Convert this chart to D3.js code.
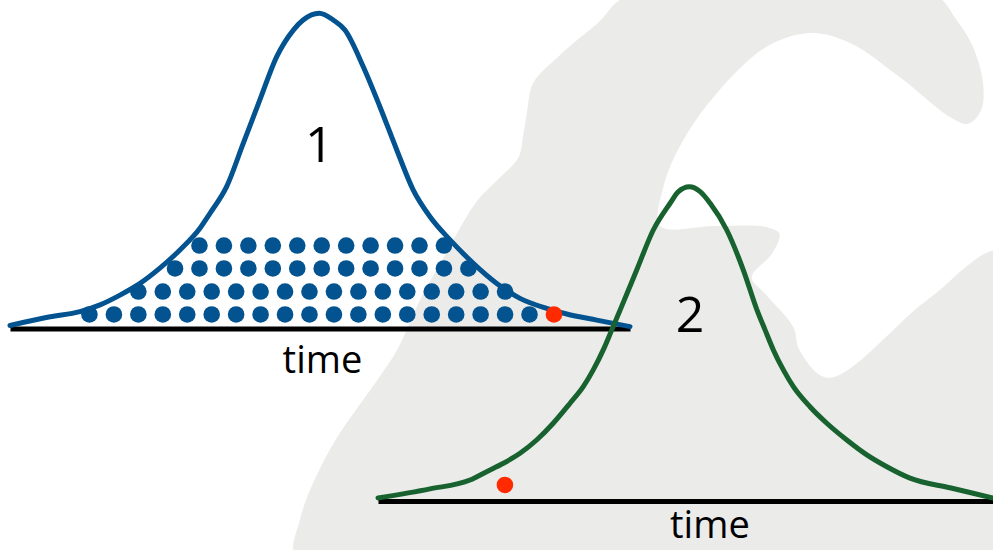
<!DOCTYPE html>
<html>
<head>
    <meta charset="UTF-8">
    <title>time</title>
    <script src="https://d3js.org/d3.v7.min.js"></script>
    <style>
        body {
            margin: 0;
            background: #fff;
        }
        svg {
            display: block;
        }
        .label {
            font-family: "Open Sans", sans-serif;
            fill: #000;
        }
        .baseline path {
            stroke: #000;
            stroke-width: 5;
        }
    </style>
</head>
<body>
    <div id="chart"></div>

    <script>
        // curve 1 (blue): time in dot columns, height in dot rows
        const blueTime = [0, 1.64, 2.86, 3.68, 4.50, 5.32, 6.13, 6.95, 7.77, 8.18, 8.86, 9.54, 10.22, 10.91, 11.59, 11.99,
            12.65, 13.22, 13.70, 14.45, 15.13, 15.82, 16.49, 17.18, 18.00, 18.95, 19.91, 20.86, 21.95, 22.77, 24.00, 25.36];
        const blueHeight = [0.13, 0.50, 0.72, 1.01, 1.43, 1.93, 2.58, 3.36, 4.29, 4.93, 6.07, 7.92, 9.78, 11.63, 12.77, 13.20,
            13.49, 13.20, 12.77, 11.20, 9.49, 7.64, 5.93, 4.78, 3.79, 2.79, 1.93, 1.29, 0.86, 0.62, 0.36, 0.08];

        // curve 2 (green)
        const greenTime = [0, 2.13, 3.77, 4.45, 5.14, 5.82, 6.50, 7.18, 7.87, 8.41, 8.82, 9.23, 9.58, 9.92, 10.60, 11.28,
            11.97, 12.31, 12.76, 13.20, 13.61, 14.29, 14.97, 15.53, 15.86, 16.20, 16.61, 17.02, 17.70, 18.39, 19.21,
            20.03, 20.85, 21.80, 23.48, 25.20];
        const greenHeight = [0.13, 0.52, 0.90, 1.26, 1.62, 2.05, 2.62, 3.34, 4.20, 4.91, 5.63, 6.49, 7.35, 8.20, 9.92, 11.64,
            12.79, 13.29, 13.50, 13.29, 12.79, 11.64, 9.92, 8.20, 7.35, 6.49, 5.63, 4.91, 4.05, 3.34, 2.62,
            1.98, 1.47, 0.98, 0.56, 0.13];

        // dots under curve 1: row height, time of first dot, number of dots
        const dotRowHeight = [0.60, 1.58, 2.57, 3.55];
        const dotRowStart = [3.25, 5.25, 6.75, 7.75];
        const dotRowCount = [19, 16, 13, 11];

        // red points (one per curve)
        const redTime = [22.25, 5.20];
        const redHeight = [0.60, 0.69];

        const panelNames = ["1", "2"];
        const panelNameTime = [12.65, 12.79];
        const panelNameHeight = [7.12, 7.26];
        const axisTitle = "time";
        const axisTitleTime = [12.78, 13.6];

        // grey watermark in the background, percent of the picture
        const shapeX = [63.2, 94.2, 96.2, 97.9, 99.0, 98.8, 97.5, 95.7, 90.6, 85.6, 81.6, 77.2, 72.2, 68.8, 66.8, 66.5,
            72.0, 77.2, 78.5, 77.8, 75.7, 77.1, 79.9, 80.5, 83.4, 93.4, 100.7, 100.7, 30.0, 30.2, 33.2, 38.0, 40.0,
            42.3, 44.8, 46.5, 48.1, 50.4, 52.2, 52.7, 53.1, 53.7, 56.4, 60.2];
        const shapeY = [-0.7, -0.7, 3.3, 8.2, 15.1, 20.0, 22.5, 21.3, 14.0, 7.8, 6.0, 8.5, 16.9, 25.5, 34.0, 41.1,
            41.1, 41.3, 42.5, 46.0, 50.4, 53.5, 59.5, 63.6, 68.7, 54.5, 45.8, 101.8, 101.8, 94.5, 81.8, 69.1, 63.6,
            54.5, 46.4, 40.9, 36.4, 32.2, 28.7, 24.5, 20.0, 15.1, 10.0, 4.2];

        const width = 993;
        const height = 550;

        const svg = d3.select("#chart")
            .append("svg")
            .attr("width", width)
            .attr("height", height);

        // watermark
        const bx = d3.scaleLinear().domain([0, 100]).range([0, width]);
        const by = d3.scaleLinear().domain([0, 100]).range([0, height]);
        svg.append("path")
            .datum(d3.zip(shapeX, shapeY))
            .attr("fill", "#ebebea")
            .attr("d", d3.line()
                .x(d => bx(d[0]))
                .y(d => by(d[1]))
                .curve(d3.curveCatmullRomClosed.alpha(0.5)));

        // two panels, each with its own scales
        const panels = [
            {
                time: blueTime, value: blueHeight, color: "#02538f",
                x: d3.scaleLinear().domain([0, 25.36]).range([10, 630]),
                y: d3.scaleLinear().domain([0, 13.5]).range([328.5, 13]),
                titleDy: 44
            },
            {
                time: greenTime, value: greenHeight, color: "#17622e",
                x: d3.scaleLinear().domain([0, 25.2]).range([378, 993]),
                y: d3.scaleLinear().domain([0, 13.5]).range([501, 186.7]),
                titleDy: 37
            }
        ];

        panels.forEach((p, i) => {
            const g = svg.append("g");

            // time axis (just the line)
            g.append("g")
                .attr("class", "baseline")
                .attr("transform", `translate(0,${p.y(0)})`)
                .call(d3.axisBottom(p.x).tickValues([]).tickSizeOuter(0));

            // axis title
            g.append("text")
                .attr("class", "label")
                .attr("x", p.x(axisTitleTime[i]))
                .attr("y", p.y(0) + p.titleDy)
                .attr("text-anchor", "middle")
                .style("font-size", "38px")
                .text(axisTitle);

            // blue dots sit under curve 1 only
            if (i === 0) {
                const dots = [];
                dotRowHeight.forEach((h, r) => {
                    for (let k = 0; k < dotRowCount[r]; k++) {
                        dots.push({t: dotRowStart[r] + k, v: h});
                    }
                });
                g.selectAll("circle.dot")
                    .data(dots)
                    .enter()
                    .append("circle")
                    .attr("class", "dot")
                    .attr("cx", d => p.x(d.t))
                    .attr("cy", d => p.y(d.v))
                    .attr("r", 8.3)
                    .attr("fill", p.color);
            }

            // the curve
            g.append("path")
                .datum(d3.zip(p.time, p.value))
                .attr("fill", "none")
                .attr("stroke", p.color)
                .attr("stroke-width", 5)
                .attr("stroke-linecap", "round")
                .attr("d", d3.line()
                    .x(d => p.x(d[0]))
                    .y(d => p.y(d[1]))
                    .curve(d3.curveMonotoneX));

            // red point
            g.append("circle")
                .attr("cx", p.x(redTime[i]))
                .attr("cy", p.y(redHeight[i]))
                .attr("r", 8.3)
                .attr("fill", "#ff2a00");

            // panel number
            g.append("text")
                .attr("class", "label")
                .attr("x", p.x(panelNameTime[i]))
                .attr("y", p.y(panelNameHeight[i]))
                .attr("text-anchor", "middle")
                .style("font-size", "50px")
                .text(panelNames[i]);
        });
    </script>
</body>
</html>
